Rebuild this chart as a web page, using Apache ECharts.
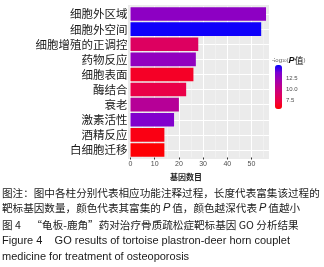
<!DOCTYPE html>
<html><head><meta charset="utf-8">
<script src="https://cdn.jsdelivr.net/npm/echarts@6/dist/echarts.min.js"></script>
<style>html,body{margin:0;padding:0;background:#fff}#c{width:324px;height:267px}</style>
</head><body><div id="c"></div>
<script>
const categories = ['细胞外区域','细胞外空间','细胞增殖的正调控','药物反应','细胞表面','酶结合','衰老','激素活性','酒精反应','白细胞迁移'];
const geneCounts = [56,54,28,27,26,23,20,18,14,14];
const negLogP = [13.0,15.3,8.5,12.8,6.5,7.5,11.0,13.5,6.0,5.6];
const xTicks = [0,10,20,30,40,50];
const legendTicks = [7.5,10.0,12.5];
const legendRange = [5.5,15.5];
const xTitle = '基因数目';
const captionLines = [
  '图注：图中各柱分别代表相应功能注释过程，长度代表富集该过程的',
  '靶标基因数量，颜色代表其富集的 P 值，颜色越深代表 P 值越小',
  '图 4　“龟板-鹿角”药对治疗骨质疏松症靶标基因 GO 分析结果',
  'Figure 4    GO results of tortoise plastron-deer horn couplet',
  'medicine for treatment of osteoporosis'
];

const chart = echarts.init(document.getElementById('c'), null, {renderer:'canvas'});
const CJK = '"Noto Sans CJK SC", sans-serif';
const LAT = '"Liberation Sans", Arial, sans-serif';

const barData = categories.map((c,i)=>({value:[geneCounts[i], c, negLogP[i]]}));

function pText(s){ return s.replace(/ P /g, '{p|P}'); }

chart.setOption({
  animation:false,
  grid:[
    {left:130.5, top:6.5, height:151, width:145.2, containLabel:false},
    {left:275, top:65, width:7, height:44}
  ],
  xAxis:[
    {type:'value', gridIndex:0, min:0, max:60, interval:10,
     axisLine:{show:false},
     axisTick:{show:true, length:2, lineStyle:{color:'#333', width:1}, customValues:xTicks},
     axisLabel:{color:'#4D4D4D', fontSize:7, margin:3, fontFamily:LAT, customValues:xTicks},
     splitLine:{show:true, lineStyle:{color:'#FFFFFF', width:1}},
     minorTick:{show:false, splitNumber:2},
     minorSplitLine:{show:true, lineStyle:{color:'#F7F7F7', width:0.5}}
    },
    {type:'value', gridIndex:1, show:false, min:0, max:1}
  ],
  yAxis:[
    {type:'category', gridIndex:0, data:categories, inverse:true,
     axisLine:{show:false}, axisTick:{show:false, alignWithLabel:true},
     axisLabel:{color:'#1A1A1A', fontSize:11.5, margin:3, fontFamily:CJK, interval:0},
     splitLine:{show:true, alignWithLabel:true, interval:0, lineStyle:{color:'#FFFFFF', width:1}}
    },
    {type:'value', gridIndex:1, min:legendRange[0], max:legendRange[1], position:'right',
     axisLine:{show:false},
     axisTick:{show:true, inside:true, length:1.5, lineStyle:{color:'#fff', width:0.8}, customValues:legendTicks},
     axisLabel:{fontSize:6, color:'#4D4D4D', margin:4, fontFamily:LAT, customValues:legendTicks,
       formatter:v=>v.toFixed(1)},
     splitLine:{show:false}
    }
  ],
  visualMap:{
    type:'continuous', min:legendRange[0], max:legendRange[1], dimension:2, seriesIndex:0,
    left:275, top:65, itemWidth:7, itemHeight:44, padding:0, calculable:false,
    inRange:{color:['#FF0000','#EE0040','#D90068','#BF008C','#A000B2','#7A00D4','#0000FF']},
    textStyle:{fontSize:1}, text:null
  },
  series:[
    {type:'bar', xAxisIndex:0, yAxisIndex:0, z:3, data:barData, encode:{x:0,y:1},
     barCategoryGap:'10%'}
  ],
  graphic:[
    {type:'rect', z:-10, silent:true, shape:{x:128, y:5, width:141, height:154}, style:{fill:'#EBEBEB'}},
    {type:'text', left:272, top:56, style:{
      rich:{a:{fontSize:6,fill:'#555',fontFamily:LAT}, s:{fontSize:4,fill:'#555',fontFamily:LAT},
            p:{fontSize:9,fill:'#111',fontStyle:'italic',fontWeight:'bold',fontFamily:LAT}, c:{fontSize:9,fill:'#111',fontFamily:CJK}},
      text:'{a|-log}{s|10}{a|(}{p|P}{c|值}{a|)}'}},
    {type:'text', left:170, top:173, style:{text:xTitle, fontSize:8, fontWeight:'bold', fill:'#222', fontFamily:CJK}},
    ...captionLines.map((t,i)=>{
      const ys=[193,208,225,241,257];
      const isLat = i>=3;
      const base = {fontSize: isLat?11:10.6, fill:'#1a1a1a', fontFamily: isLat?LAT:CJK, fontWeight:'normal'};
      return {type:'text', x:2, y:ys[i], style:{
        text: i===1 ? pText(t) : t,
        rich: {p:{fontSize:11, fontStyle:'italic', fontFamily:LAT, fill:'#1a1a1a', padding:[0,2,0,2]}},
        verticalAlign:'middle', ...base}};
    })
  ]
});
</script></body></html>
